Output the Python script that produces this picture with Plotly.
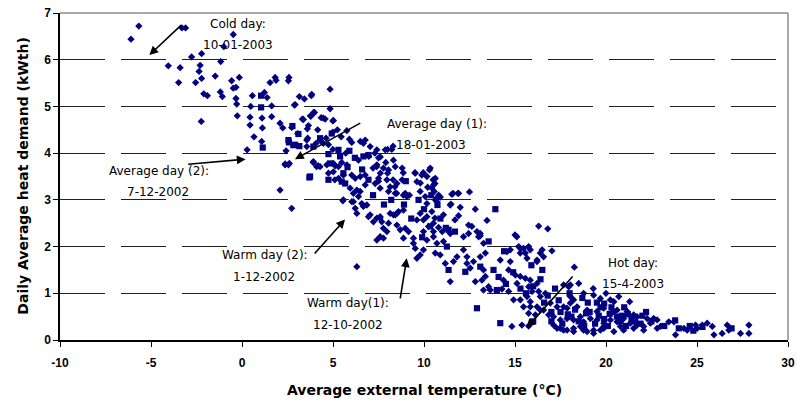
import plotly.graph_objects as go

# Daily average heat demand vs. average external temperature
# Days drawn with diamond markers
diamond_temp = [
    -6.1, -5.67, -3.3, -3.1, -0.48, -4.05, -3.4, -2.77, -2.22, -1.17, -2.3, -2.36, -3.48, -2.55,
    -2.22, -1.47, -2.1, -1.9, -2.24, -1.19, -1.08, -0.57, -0.15, -0.33, -0.48, -0.33, -0.29, -0.26,
    -1.0, 0.57, 0.48, 0.44, 0.44, 0.66, 0.28, 1.23, 1.38, 1.1, 1.12, 1.08, 1.63, 1.63, 1.54, 1.87,
    1.82, 2.55, 2.58, 2.09, 2.24, 3.06, 2.42, 2.37, 2.6, 2.09, 2.88, 3.15, 3.43, 3.32, 3.59, 3.61,
    3.56, 3.81, 3.76, 3.94, 3.92, 4.18, 4.35, 4.84, 4.84, 4.57, 5.02, 4.62, 4.29, 4.07, 5.24, 5.45,
    5.76, 6.03, 5.7, 5.02, 5.1, 6.12, 6.49, 6.77, 6.67, 7.04, 7.3, 7.6, 7.9, 8.0, 8.3, 6.97,
    7.4, 7.6, 7.5, 8.0, 8.3, 8.4, 8.05, 8.5, 8.86, 8.8, 9.5, 9.96, 10.3, 10.5, 9.8, 10.2,
    10.8, 10.9, 11.6, 11.9, 12.5, 8.97, 9.2, 3.83, 2.92, 3.98, 3.78, 3.37, 4.47, 4.99, 3.65, 2.73,
    4.16, 4.99, 5.9, 6.5, 6.77, 3.56, 4.47, 4.75, 4.99, 7.41, 7.87, 8.23, 7.5, 8.32, 6.4, 4.29,
    5.12, 2.55, 7.2, 8.8, 10.34, 10.56, 10.6, 10.56, 10.8, 11.53, 11.86, 11.48, 11.99, 12.82, 10.43, 10.6,
    11.07, 11.7, 11.9, 13.46, 12.45, 12.63, 16.3, 16.8, 15.1, 10.8, 11.0, 12.17, 12.91, 13.09, 12.45, 2.37,
    3.92, 4.1, 4.66, 5.3, 5.48, 5.76, 4.75, 5.02, 5.57, 5.3, 6.03, 6.22, 6.5, 6.77, 5.94, 6.31,
    6.4, 6.03, 6.58, 6.86, 5.54, 6.22, 6.31, 7.32, 7.5, 7.59, 7.96, 8.14, 8.51, 8.42, 8.87, 9.06,
    7.41, 7.77, 8.05, 8.42, 6.95, 7.22, 7.59, 7.77, 8.14, 8.42, 8.6, 8.87, 7.96, 7.77, 7.41, 8.69,
    8.97, 9.15, 8.87, 9.42, 9.52, 9.42, 9.61, 9.79, 9.97, 10.16, 10.52, 10.25, 9.97, 10.16, 10.52, 10.71,
    9.61, 9.79, 9.97, 6.31, 9.52, 9.88, 10.16, 10.62, 10.52, 10.43, 9.61, 9.79, 10.07, 10.62, 2.73, 10.52,
    11.44, 11.07, 10.62, 10.89, 12.17, 12.36, 11.81, 11.62, 11.17, 11.44, 12.36, 12.54, 12.72, 12.82, 13.27, 13.37,
    13.18, 13.55, 13.64, 13.27, 13.27, 13.37, 13.09, 14.19, 14.37, 14.65, 14.74, 14.56, 14.74, 15.29, 15.75, 15.84,
    16.49, 16.21, 16.57, 14.28, 14.65, 15.02, 15.29, 15.11, 15.57, 15.75, 15.84, 16.21, 15.94, 16.3, 16.67, 14.92,
    15.29, 15.66, 15.84, 16.39, 15.47, 15.84, 16.21, 15.75, 16.12, 16.39, 14.83, 15.38, 17.03, 18.26, 18.5, 17.67,
    17.95, 18.77, 19.32, 19.69, 20.24, 20.7, 20.43, 18.04, 18.22, 17.31, 17.86, 18.41, 18.96, 19.51, 19.88, 20.61,
    21.16, 21.71, 22.26, 22.81, 23.45, 17.12, 17.49, 17.86, 18.22, 18.59, 18.77, 19.14, 19.51, 19.88, 20.24, 20.61,
    20.97, 21.34, 21.71, 22.07, 22.44, 22.81, 17.31, 17.67, 18.22, 18.77, 19.32, 19.88, 20.43, 20.97, 21.52, 22.07,
    20.79, 21.52, 22.62, 22.99, 23.73, 24.28, 24.46, 24.92, 25.01, 25.29, 25.56, 25.84, 25.93, 26.38, 26.66, 26.75,
    27.39, 27.85, 27.85, 23.82, 15.0, 15.2, 15.47, 15.29, 15.57, 15.66, 16.21, 16.39, 18.04, 16.94, 17.67, 18.04,
    16.57, 16.85, 17.12, 17.49, 17.86, 18.22, 18.59, 18.96, 19.32, 19.69, 19.88, 15.75, 10.16, 10.71, 11.44, 13.09,
    13.0, 5.57, 6.12, 6.67, 7.04, 7.41, 7.59, 7.68, 8.05, 7.59, 8.32, 8.51, 8.51, 20.0, 21.3, 19.3,
]
diamond_demand = [
    6.44, 6.72, 6.68, 6.68, 6.54, 5.87, 5.83, 6.06, 6.13, 5.96, 5.88, 5.75, 5.51, 5.51,
    5.6, 5.65, 5.27, 5.23, 4.68, 5.31, 5.21, 5.55, 5.62, 5.41, 5.39, 5.17, 5.05, 4.8,
    6.28, 5.23, 5.0, 4.77, 4.6, 4.35, 4.07, 5.3, 5.19, 4.75, 4.54, 4.25, 5.01, 4.78, 5.51, 5.56,
    5.62, 5.55, 5.62, 4.64, 4.54, 4.42, 4.05, 3.77, 3.78, 3.21, 5.03, 5.21, 5.16, 4.73, 4.52, 4.32,
    4.14, 5.23, 4.8, 4.87, 3.8, 3.73, 4.76, 5.37, 4.95, 4.73, 4.7, 4.32, 4.28, 4.21, 4.5, 4.35,
    4.48, 4.23, 4.0, 3.78, 3.43, 3.14, 3.18, 3.32, 4.21, 4.14, 4.0, 3.92, 3.8, 4.08, 4.15, 3.93,
    3.71, 3.57, 3.4, 3.57, 3.43, 3.28, 3.18, 3.14, 3.58, 3.43, 3.58, 3.58, 3.64, 3.43, 3.36, 3.27,
    3.1, 3.06, 3.14, 3.14, 3.17, 3.14, 3.1, 5.26, 5.04, 4.87, 4.79, 4.72, 4.75, 4.69, 4.59, 4.55,
    4.5, 4.45, 4.3, 4.25, 4.28, 4.28, 4.21, 4.18, 4.08, 4.07, 4.07, 4.08, 3.9, 3.85, 3.85, 3.71,
    3.73, 3.75, 3.68, 3.68, 3.68, 3.44, 3.35, 3.18, 3.07, 3.12, 3.14, 2.91, 2.84, 2.8, 2.75, 2.61,
    2.68, 2.57, 2.66, 2.56, 2.46, 2.43, 2.44, 2.38, 2.21, 2.41, 2.32, 2.21, 2.32, 2.23, 2.28, 3.75,
    3.82, 3.71, 3.75, 3.71, 3.8, 3.75, 3.57, 3.6, 3.53, 3.46, 3.53, 3.46, 3.5, 3.53, 3.25, 3.21,
    3.07, 2.96, 2.92, 2.89, 2.98, 2.82, 2.71, 3.35, 3.46, 3.25, 3.43, 3.28, 3.35, 3.14, 3.1, 3.07,
    3.75, 3.68, 3.64, 3.71, 2.64, 2.53, 2.61, 2.39, 2.71, 2.68, 2.75, 2.78, 2.32, 2.18, 2.14, 2.36,
    2.39, 2.32, 2.18, 2.07, 1.96, 2.18, 2.57, 2.71, 2.57, 2.64, 2.5, 2.43, 2.32, 2.14, 2.21, 2.07,
    1.75, 1.82, 1.93, 1.57, 3.57, 3.53, 3.5, 3.46, 3.32, 3.25, 3.39, 3.18, 3.07, 3.0, 2.82, 2.32,
    2.28, 2.11, 1.86, 1.82, 1.93, 1.78, 1.78, 1.68, 1.64, 1.25, 1.64, 1.54, 1.68, 1.25, 1.5, 1.36,
    1.28, 1.14, 1.07, 1.07, 2.07, 1.86, 1.78, 1.71, 1.28, 1.5, 1.68, 1.89, 1.93, 1.96, 2.0, 1.93,
    1.93, 1.71, 1.78, 1.09, 1.04, 1.39, 1.36, 1.21, 1.32, 1.14, 1.28, 1.21, 1.04, 1.04, 1.0, 0.86,
    0.86, 0.93, 0.82, 0.93, 0.71, 0.71, 0.71, 0.57, 0.54, 0.64, 0.29, 0.32, 1.91, 1.56, 1.21, 1.18,
    1.14, 1.0, 0.96, 0.89, 0.86, 0.93, 0.82, 0.93, 0.86, 0.71, 0.68, 0.71, 0.64, 0.61, 0.68, 0.64,
    0.61, 0.5, 0.46, 0.43, 0.39, 0.5, 0.43, 0.46, 0.43, 0.5, 0.39, 0.46, 0.43, 0.36, 0.43, 0.39,
    0.46, 0.36, 0.32, 0.29, 0.36, 0.25, 0.25, 0.21, 0.25, 0.21, 0.21, 0.25, 0.18, 0.21, 0.25, 0.21,
    0.29, 0.54, 0.46, 0.29, 0.39, 0.25, 0.21, 0.32, 0.25, 0.32, 0.36, 0.29, 0.11, 0.14, 0.32, 0.21,
    0.14, 0.32, 0.14, 0.11, 2.25, 2.0, 1.96, 1.86, 1.86, 1.75, 1.68, 1.86, 1.18, 0.79, 0.71, 0.79,
    0.64, 0.54, 0.32, 0.25, 0.21, 0.18, 0.29, 0.18, 0.14, 0.21, 0.29, 0.3, 2.92, 2.96, 2.89, 2.28,
    2.21, 3.0, 2.96, 2.86, 2.68, 2.61, 2.64, 2.53, 2.5, 2.21, 2.68, 2.71, 2.46, 1.0, 0.82, 1.1,
]

# Days drawn with square markers
square_temp = [
    1.05, 1.05, 1.14, 2.77, 2.58, 2.82, 3.15, 3.7, 4.93, 4.75, 4.75, 5.39, 5.57, 5.8,
    3.1, 2.55, 4.29, 2.92, 3.92, 5.3, 6.67, 6.95, 4.84, 3.74, 5.48, 5.67, 6.95, 13.92,
    10.74, 10.34, 11.35, 11.7, 11.26, 11.35, 12.27, 13.09, 13.55, 13.82, 14.0, 14.19, 12.91, 24.0,
    17.5, 18.1, 18.9, 19.6, 20.2, 20.9, 21.4, 22.0, 22.5, 23.8, 24.6, 25.3, 19.0, 19.9,
    17.2, 18.7, 16.6, 17.0, 16.0, 14.4, 15.3, 15.9, 16.5,
    17.6, 17.9, 18.3, 18.5, 18.8, 19.1, 19.4, 19.7, 19.9, 20.1, 20.4, 20.6, 20.8, 21.1,
    21.2, 21.6, 21.9, 22.2, 17.0, 16.8, 17.4, 18.0, 19.5, 20.3, 21.0, 23.2, 24.8, 26.9,
    14.5, 14.9, 15.6, 16.0, 16.4, 14.1, 8.2, 8.9, 9.3, 9.7, 10.0, 10.4, 9.0, 7.2,
    7.8, 9.9, 10.9, 11.2, 6.2, 5.9, 6.6,
]
square_demand = [
    5.23, 4.98, 4.12, 4.58, 4.23, 4.17, 4.15, 3.48, 4.42, 3.98, 3.43, 3.93, 3.57, 3.7,
    4.41, 4.28, 4.32, 4.18, 4.14, 4.07, 3.93, 3.96, 3.78, 3.5, 3.39, 3.35, 3.43, 2.8,
    2.89, 2.43, 2.36, 2.32, 2.0, 1.5, 1.46, 1.57, 2.11, 1.5, 1.07, 0.36, 0.68, 0.25,
    0.6, 0.5, 0.57, 0.52, 0.56, 0.52, 0.45, 0.52, 0.4, 0.42, 0.3, 0.28, 0.8, 0.78,
    1.1, 0.9, 0.8, 0.4, 0.4, 1.9, 1.1, 1.6, 1.5,
    0.35, 0.55, 0.65, 0.4, 0.3, 0.6, 0.35, 0.7, 0.45, 0.3, 0.6, 0.5, 0.4, 0.3,
    0.55, 0.4, 0.35, 0.6, 0.6, 0.95, 0.85, 1.0, 0.8, 0.7, 0.7, 0.3, 0.2, 0.25,
    1.2, 1.45, 1.0, 1.15, 1.3, 1.35, 3.0, 2.9, 2.6, 3.0, 2.8, 3.1, 3.4, 3.1,
    2.9, 2.2, 2.6, 2.4, 3.9, 4.05, 3.65,
]

# Labelled days: label lines, label position, arrow tail and arrow tip
label_line1 = ["Cold day:", "Average day (1):", "Average day (2):", "Warm day (2):", "Warm day(1):", "Hot day:"]
label_line2 = ["10-01-2003", "18-01-2003", "7-12-2002", "1-12-2002", "12-10-2002", "15-4-2003"]
label_x1 = [-0.22, 10.71, -4.56, 1.26, 5.82, 21.48]
label_y1 = [6.77, 4.62, 3.62, 1.82, 0.79, 1.65]
label_x2 = [-0.22, 10.38, -4.62, 1.21, 5.82, 21.48]
label_y2 = [6.32, 4.17, 3.17, 1.35, 0.32, 1.2]
arrow_tail_x = [-3.26, 6.58, -3.04, 3.92, 8.68, 18.24]
arrow_tail_y = [6.77, 4.66, 3.76, 1.82, 0.86, 1.39]
arrow_tip_x = [-5.09, 2.91, 0.2, 5.66, 9.05, 15.64]
arrow_tip_y = [6.1, 3.87, 3.87, 2.58, 1.75, 0.26]

x_ticks = [-10, -5, 0, 5, 10, 15, 20, 25, 30]
y_ticks = [0, 1, 2, 3, 4, 5, 6, 7]

NAVY = "#000080"
LABEL_FONT = dict(family="DejaVu Sans", size=12, color="black")
TITLE_FONT = dict(family="DejaVu Sans", size=14, color="black")

fig = go.Figure()
fig.add_trace(go.Scatter(
    x=diamond_temp, y=diamond_demand, mode="markers",
    marker=dict(symbol="diamond", size=5.6, color=NAVY, line=dict(width=0)),
    showlegend=False, hoverinfo="skip",
))
fig.add_trace(go.Scatter(
    x=square_temp, y=square_demand, mode="markers",
    marker=dict(symbol="square", size=6.2, color=NAVY, line=dict(width=0)),
    showlegend=False, hoverinfo="skip",
))

annotations = []
for i in range(len(label_line1)):
    annotations.append(dict(x=label_x1[i], y=label_y1[i], xref="x", yref="y", text=label_line1[i],
                            showarrow=False, font=LABEL_FONT, xanchor="center", yanchor="middle"))
    annotations.append(dict(x=label_x2[i], y=label_y2[i], xref="x", yref="y", text=label_line2[i],
                            showarrow=False, font=LABEL_FONT, xanchor="center", yanchor="middle"))
    annotations.append(dict(x=arrow_tip_x[i], y=arrow_tip_y[i], xref="x", yref="y",
                            ax=arrow_tail_x[i], ay=arrow_tail_y[i], axref="x", ayref="y",
                            text="", showarrow=True, arrowhead=2, arrowsize=1.1,
                            arrowwidth=1.6, arrowcolor="black", standoff=0, startstandoff=0))

# Axis titles
annotations.append(dict(x=0.5, y=-0.153, xref="paper", yref="paper",
                        xanchor="center", yanchor="middle",
                        text="<b>Average external temperature (°C)</b>", showarrow=False,
                        font=TITLE_FONT))
annotations.append(dict(x=-0.052, y=0.5, xref="paper", yref="paper",
                        xanchor="center", yanchor="middle",
                        text="<b>Daily Average heat demand (kWth)</b>", showarrow=False, textangle=-90,
                        font=TITLE_FONT))

fig.update_layout(
    width=797, height=403,
    margin=dict(l=60, r=9, t=13, b=63, autoexpand=False),
    paper_bgcolor="white", plot_bgcolor="white",
    annotations=annotations,
    shapes=[
        dict(type="line", xref="paper", yref="paper", x0=0, x1=1, y0=1, y1=1,
             line=dict(color="#8c8c8c", width=1.5)),
        dict(type="line", xref="paper", yref="paper", x0=1, x1=1, y0=0, y1=1,
             line=dict(color="#8c8c8c", width=1.5)),
    ],
)
fig.update_xaxes(
    range=[-10, 30], tickvals=x_ticks, ticktext=[str(v) for v in x_ticks],
    automargin=False, ticklabelstandoff=6,
    showgrid=False, zeroline=False, showline=True, linecolor="black", linewidth=1.5,
    ticks="outside", ticklen=5, tickcolor="black", tickwidth=1.2,
    tickfont=dict(family="Liberation Sans", size=12, color="black", weight="bold"),
)
fig.update_yaxes(
    range=[0, 7], tickvals=y_ticks, ticktext=[str(v) for v in y_ticks],
    automargin=False,
    showgrid=True, gridcolor="#202020", gridwidth=1, griddash="45px,16px",
    zeroline=False, showline=True, linecolor="black", linewidth=1.5,
    ticks="outside", ticklen=5, tickcolor="black", tickwidth=1.2,
    tickfont=dict(family="Liberation Sans", size=12, color="black", weight="bold"),
)

fig.write_html("out.html")
